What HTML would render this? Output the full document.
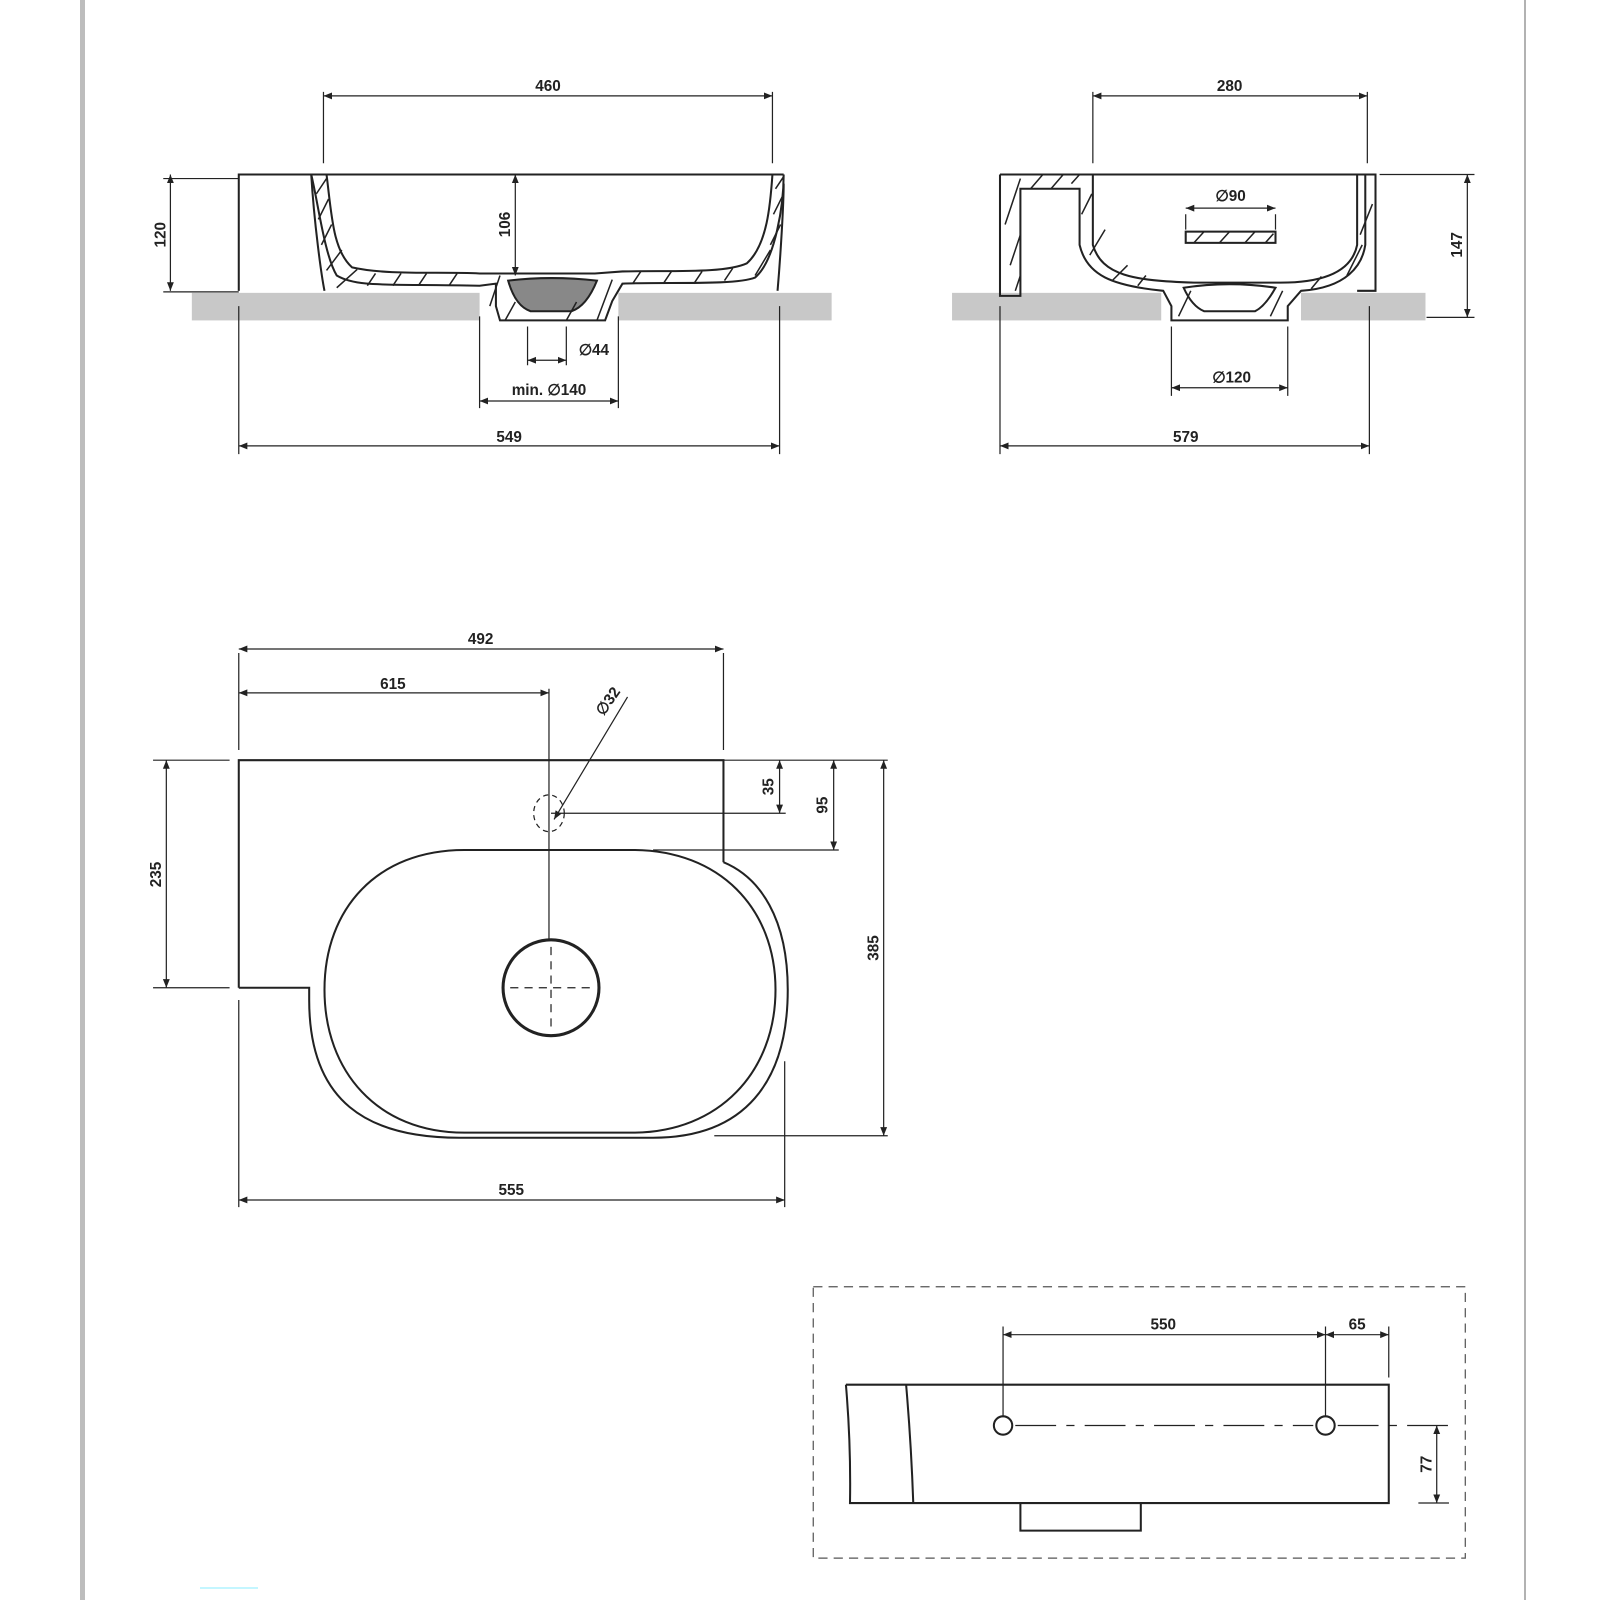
<!DOCTYPE html>
<html><head><meta charset="utf-8"><style>
html,body{margin:0;padding:0;background:#fff;width:1600px;height:1600px;overflow:hidden}
svg{display:block}
text{font-family:"Liberation Sans",sans-serif;font-weight:bold;font-size:15px;fill:#222}
</style></head><body>
<svg width="1600" height="1600" viewBox="0 0 1600 1600" xmlns="http://www.w3.org/2000/svg">
<defs>
<marker id="a" viewBox="0 0 10 10" refX="10" refY="5" markerWidth="7" markerHeight="7" orient="auto-start-reverse"><path d="M0,1 L10,5 L0,9z" fill="#222"/></marker>
</defs>
<rect x="80" y="0" width="5" height="1600" fill="#bdbdbd"/>
<line x1="1525" y1="0" x2="1525" y2="1600" stroke="#999" stroke-width="1.5"/>
<line x1="200" y1="1588" x2="258" y2="1588" stroke="#8ef" stroke-width="1"/>
<g transform="scale(1.0204)">
<g fill="none" stroke="#222" stroke-width="1.2">
<!-- ===== Left section view ===== -->
<rect x="188" y="287" width="282" height="27" fill="#c8c8c8" stroke="none"/>
<rect x="606" y="287" width="209" height="27" fill="#c8c8c8" stroke="none"/>
<g stroke-width="2">
<path d="M234,285 V171 H768"/>
<path d="M305,171 C312,200 318,250 330,270 C350,282 380,278 470,280 L486,278 L486,300 L490,314 H593 L600,295 L610,278 C650,276 720,280 740,272 C760,255 768,200 768,171"/>
<path d="M320,171 C325,210 326,245 345,262 C380,270 430,266 470,268 L500,268 H583 L610,266 C660,265 710,268 732,258 C752,240 755,200 757,171"/>
<path d="M305,171 C308,220 315,270 318,285 M762,285 C765,250 768,200 768,180"/>
<path d="M498,275 Q540,270 585,275 Q575,300 560,305 H520 Q505,300 498,275z" fill="#888"/>
</g>
<g stroke-width="1.5">
<path d="M310,190 l10,-15 M312,215 l10,-20 M315,240 l10,-20 M320,265 l15,-20 M330,282 l20,-18 M360,280 l8,-12 M385,280 l8,-12 M410,280 l8,-12 M440,280 l8,-12 M480,300 l10,-30 M495,314 l10,-18 M555,314 l10,-18 M585,314 l15,-40 M620,278 l8,-12 M650,278 l8,-12 M680,278 l8,-12 M710,275 l8,-12 M740,270 l15,-25 M755,240 l10,-20 M758,210 l10,-20 M760,185 l8,-12"/>
</g>
<path d="M317,160 V90 M757,160 V90 M234,175 H160 M234,286 H160 M470,310 V400 M606,310 V400 M517,320 V358 M555,320 V358 M234,300 V445 M764,300 V445"/>
<line x1="317" y1="94" x2="757" y2="94" marker-start="url(#a)" marker-end="url(#a)"/>
<line x1="167" y1="171" x2="167" y2="285" marker-start="url(#a)" marker-end="url(#a)"/>
<line x1="505" y1="171" x2="505" y2="270" marker-start="url(#a)" marker-end="url(#a)"/>
<line x1="517" y1="353" x2="555" y2="353" marker-start="url(#a)" marker-end="url(#a)"/>
<line x1="470" y1="393" x2="606" y2="393" marker-start="url(#a)" marker-end="url(#a)"/>
<line x1="234" y1="437" x2="764" y2="437" marker-start="url(#a)" marker-end="url(#a)"/>

<!-- ===== Right section view ===== -->
<rect x="933" y="287" width="205" height="27" fill="#c8c8c8" stroke="none"/>
<rect x="1275" y="287" width="122" height="27" fill="#c8c8c8" stroke="none"/>
<g stroke-width="2">
<path d="M980,171 H1348 V285 H1330 M980,171 V290 H1000 V185 H1058 V240 C1065,270 1090,280 1140,285 L1148,300 V314 H1262 V300 L1275,285 C1320,282 1335,260 1338,240 V171"/>
<path d="M1071,171 V240 C1080,270 1110,275 1170,277 H1255 C1300,277 1325,265 1330,240 V171"/>
<path d="M1160,282 Q1205,275 1250,282 Q1240,300 1230,305 H1180 Q1168,300 1160,282z"/>
<rect x="1162" y="227" width="88" height="11"/>
</g>
<g stroke-width="1.5">
<path d="M985,220 l15,-45 M990,260 l10,-30 M995,285 l5,-15 M1010,185 l12,-14 M1030,185 l12,-14 M1050,180 l8,-9 M1060,210 l10,-20 M1068,250 l15,-25 M1090,275 l15,-15 M1115,280 l8,-10 M1155,310 l12,-25 M1245,310 l12,-25 M1285,283 l10,-12 M1320,270 l15,-30 M1333,230 l12,-30 M1170,238 l10,-11 M1195,238 l10,-11 M1220,238 l10,-11 M1240,238 l8,-9"/>
</g>
<path d="M1071,160 V90 M1340,160 V90 M1352,171 H1445 M1398,311 H1445 M1148,320 V388 M1262,320 V388 M980,300 V445 M1342,300 V445 M1162,210 V225 M1250,210 V225"/>
<line x1="1071" y1="94" x2="1340" y2="94" marker-start="url(#a)" marker-end="url(#a)"/>
<line x1="1438" y1="171" x2="1438" y2="311" marker-start="url(#a)" marker-end="url(#a)"/>
<line x1="1162" y1="204" x2="1250" y2="204" marker-start="url(#a)" marker-end="url(#a)"/>
<line x1="1148" y1="380" x2="1262" y2="380" marker-start="url(#a)" marker-end="url(#a)"/>
<line x1="980" y1="437" x2="1342" y2="437" marker-start="url(#a)" marker-end="url(#a)"/>

<!-- ===== Plan view ===== -->
<g stroke-width="2">
<path d="M234,968 V745 H709 V845"/>
<path d="M234,968 H303 V980 C303,1080 360,1115 450,1115 H640 C730,1115 772,1060 772,970 C772,900 745,860 709,845"/>
<path d="M455,833 H620 C705,833 760,890 760,970 C760,1050 705,1110 620,1110 H455 C370,1110 318,1050 318,970 C318,890 370,833 455,833z"/>
<circle cx="540" cy="968" r="47" stroke-width="3"/>
</g>
<path d="M500,968 H580 M540,928 V1008" stroke-dasharray="8,6"/>
<ellipse cx="538" cy="797" rx="15" ry="18" stroke-dasharray="5,4"/>
<path d="M538,675 V920 M234,640 V735 M709,640 V735 M540,797 H770 M709,745 H870 M640,833 H822 M150,745 H225 M150,968 H225 M234,980 V1183 M769,1040 V1183 M700,1113 H870"/>
<line x1="234" y1="636" x2="709" y2="636" marker-start="url(#a)" marker-end="url(#a)"/>
<line x1="234" y1="679" x2="538" y2="679" marker-start="url(#a)" marker-end="url(#a)"/>
<line x1="234" y1="1176" x2="769" y2="1176" marker-start="url(#a)" marker-end="url(#a)"/>
<line x1="866" y1="745" x2="866" y2="1113" marker-start="url(#a)" marker-end="url(#a)"/>
<line x1="163" y1="745" x2="163" y2="968" marker-start="url(#a)" marker-end="url(#a)"/>
<line x1="764" y1="745" x2="764" y2="797" marker-start="url(#a)" marker-end="url(#a)"/>
<line x1="817" y1="745" x2="817" y2="833" marker-start="url(#a)" marker-end="url(#a)"/>
<line x1="615" y1="683" x2="543" y2="803" marker-end="url(#a)"/>

<!-- ===== Bottom view ===== -->
<rect x="797" y="1261" width="639" height="266" stroke-dasharray="9,6" stroke="#555"/>
<g stroke-width="2">
<path d="M829,1357 H1361 V1473 H895 M829,1357 Q834,1415 833,1473 H895 M888,1357 Q893,1415 895,1473"/>
<path d="M1000,1473 V1500 H1118 V1473"/>
<circle cx="983" cy="1397" r="9"/><circle cx="1299" cy="1397" r="9"/>
</g>
<path d="M995,1397 H1287 M1311,1397 H1420" stroke-dasharray="40,10,8,10"/>
<path d="M983,1300 V1388 M1299,1300 V1388 M1361,1300 V1350 M1390,1473 H1420"/>
<line x1="983" y1="1308" x2="1299" y2="1308" marker-start="url(#a)" marker-end="url(#a)"/>
<line x1="1299" y1="1308" x2="1361" y2="1308" marker-start="url(#a)" marker-end="url(#a)"/>
<line x1="1408" y1="1397" x2="1408" y2="1473" marker-start="url(#a)" marker-end="url(#a)"/>
</g>

<text x="537" y="89" text-anchor="middle">460</text>
<text x="162" y="230" text-anchor="middle" transform="rotate(-90 162 230)">120</text>
<text x="500" y="220" text-anchor="middle" transform="rotate(-90 500 220)">106</text>
<text x="582" y="348" text-anchor="middle">∅44</text>
<text x="538" y="387" text-anchor="middle">min. ∅140</text>
<text x="499" y="433" text-anchor="middle">549</text>
<text x="1205" y="89" text-anchor="middle">280</text>
<text x="1433" y="240" text-anchor="middle" transform="rotate(-90 1433 240)">147</text>
<text x="1206" y="197" text-anchor="middle">∅90</text>
<text x="1207" y="375" text-anchor="middle">∅120</text>
<text x="1162" y="433" text-anchor="middle">579</text>
<text x="471" y="631" text-anchor="middle">492</text>
<text x="385" y="675" text-anchor="middle">615</text>
<text x="600" y="690" text-anchor="middle" transform="rotate(-55 600 690)">∅32</text>
<text x="158" y="857" text-anchor="middle" transform="rotate(-90 158 857)">235</text>
<text x="758" y="771" text-anchor="middle" transform="rotate(-90 758 771)">35</text>
<text x="811" y="789" text-anchor="middle" transform="rotate(-90 811 789)">95</text>
<text x="861" y="929" text-anchor="middle" transform="rotate(-90 861 929)">385</text>
<text x="501" y="1171" text-anchor="middle">555</text>
<text x="1140" y="1303" text-anchor="middle">550</text>
<text x="1330" y="1303" text-anchor="middle">65</text>
<text x="1403" y="1435" text-anchor="middle" transform="rotate(-90 1403 1435)">77</text>
</g>
</svg>
</body></html>
